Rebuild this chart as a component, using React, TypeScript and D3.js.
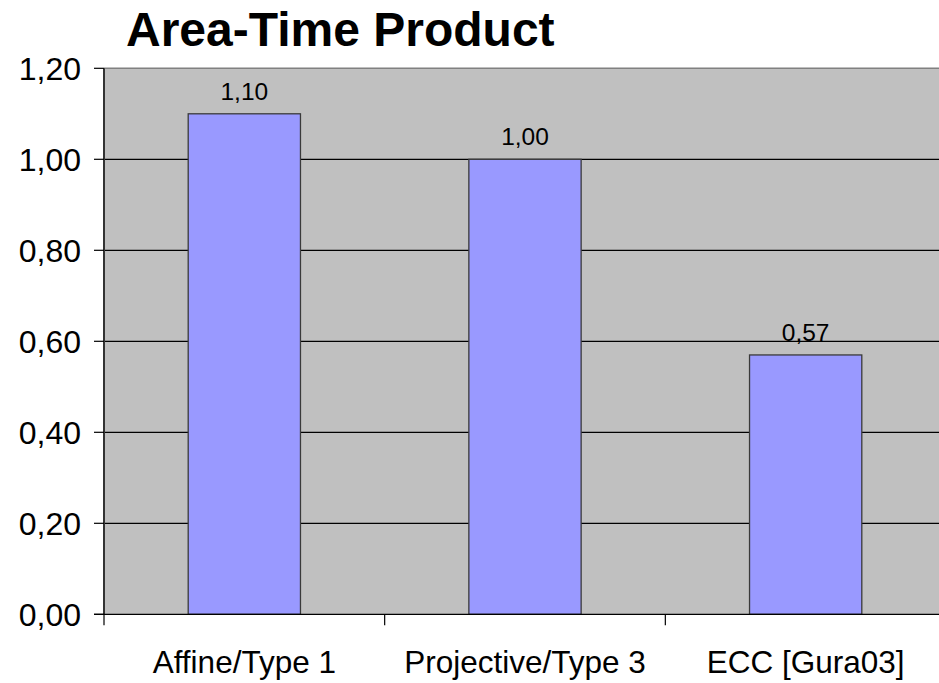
import React from "react";
import * as d3 from "d3";

// Chart data
const categories = ["Affine/Type 1", "Projective/Type 3", "ECC [Gura03]"];
const values = [1.1, 1.0, 0.57];
const yTicks = [0, 0.2, 0.4, 0.6, 0.8, 1.0, 1.2];
const title = "Area-Time Product";

const W = 939;
const H = 683;
const plot = { left: 104, right: 946, top: 68.3, bottom: 614.3 };

const locale = d3.formatLocale({
  decimal: ",",
  thousands: ".",
  grouping: [3],
  currency: ["", " €"],
});
const fmt = locale.format(".2f");

export default function App() {
  const x = d3
    .scaleBand<string>()
    .domain(categories)
    .range([plot.left, plot.right])
    .paddingInner(0.6)
    .paddingOuter(0.3);
  const y = d3.scaleLinear().domain([0, 1.2]).range([plot.bottom, plot.top]);
  const step = x.step();
  const boundaries = d3.range(categories.length + 1).map((i) => plot.left + i * step);

  const font = "'Liberation Sans', Arial, sans-serif";

  return (
    <svg
      width={W}
      height={H}
      style={{ position: "absolute", left: 0, top: 0, background: "#fff" }}
      fontFamily={font}
    >
      <text x={126} y={46} fontSize={48} fontWeight="bold" fill="#000">
        {title}
      </text>

      {/* plot area */}
      <rect
        x={plot.left}
        y={plot.top}
        width={plot.right - plot.left}
        height={plot.bottom - plot.top}
        fill="#C0C0C0"
      />
      <line x1={plot.left} x2={plot.right} y1={plot.top} y2={plot.top} stroke="#808080" strokeWidth={1.5} />

      {/* gridlines */}
      {yTicks
        .filter((t) => t > 0 && t < 1.2)
        .map((t) => (
          <line
            key={"g" + t}
            x1={plot.left}
            x2={plot.right}
            y1={y(t)}
            y2={y(t)}
            stroke="#000"
            strokeWidth={1.2}
          />
        ))}

      {/* bars */}
      {categories.map((c, i) => (
        <g key={c}>
          <rect
            x={x(c)}
            y={y(values[i])}
            width={x.bandwidth()}
            height={y(0) - y(values[i])}
            fill="#9999FF"
            stroke="#3a3a3a"
            strokeWidth={1.3}
          />
          <text
            x={(x(c) as number) + x.bandwidth() / 2}
            y={y(values[i]) - 14}
            fontSize={24.5}
            textAnchor="middle"
            fill="#000"
          >
            {fmt(values[i])}
          </text>
        </g>
      ))}

      {/* y axis */}
      <line x1={plot.left} x2={plot.left} y1={plot.top} y2={plot.bottom} stroke="#333" strokeWidth={2} />
      {yTicks.map((t) => (
        <g key={"t" + t}>
          <line x1={plot.left - 10} x2={plot.left} y1={y(t)} y2={y(t)} stroke="#000" strokeWidth={1.2} />
          <text x={81} y={y(t) + 11.5} fontSize={32} textAnchor="end" fill="#000">
            {fmt(t)}
          </text>
        </g>
      ))}

      {/* x axis */}
      <line x1={plot.left - 10} x2={plot.right} y1={plot.bottom} y2={plot.bottom} stroke="#000" strokeWidth={1.2} />
      {boundaries.map((b, i) => (
        <line key={"b" + i} x1={b} x2={b} y1={plot.bottom} y2={plot.bottom + 11} stroke="#000" strokeWidth={1.2} />
      ))}
      {categories.map((c) => (
        <text
          key={"l" + c}
          x={(x(c) as number) + x.bandwidth() / 2}
          y={673}
          fontSize={31.5}
          textAnchor="middle"
          fill="#000"
        >
          {c}
        </text>
      ))}
    </svg>
  );
}
